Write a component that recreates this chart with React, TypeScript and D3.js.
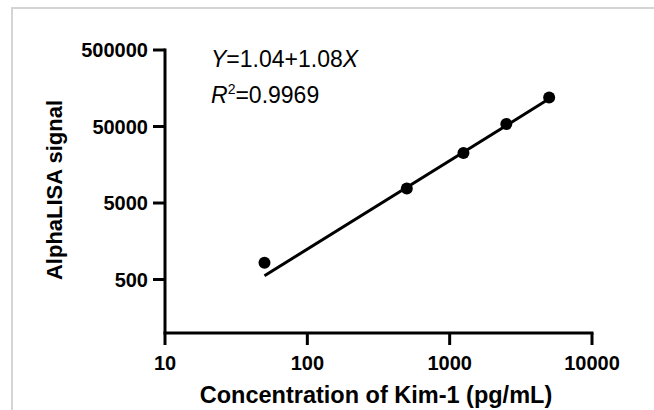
import * as d3 from 'd3';

// Kim-1 standard curve (pg/mL vs AlphaLISA counts)
const concentration = [50, 500, 1250, 2500, 5000];
const signal = [830, 7750, 22600, 54000, 120000];

// regression line ends as drawn
const fitX = [50, 5000];
const fitY = [560, 115000];

const xTicks = [10, 100, 1000, 10000];
const yTicks = [500, 5000, 50000, 500000];

const xTitle = 'Concentration of Kim-1 (pg/mL)';
const yTitle = 'AlphaLISA signal';

const W = 654;
const H = 410;
const font = 'Arial, "Liberation Sans", Helvetica, sans-serif';

export default function App() {
  const x = d3.scaleLog().domain([10, 10000]).range([165, 592]);
  const y = d3.scaleLog().domain([100, 500000]).range([333, 50]);
  const fmt = d3.format('d');

  const line = d3
    .line<number>()
    .x((_, i) => x(fitX[i]))
    .y(d => y(d));

  const y0 = y.range()[0];
  const x0 = x.range()[0];

  return (
    <svg
      width={W}
      height={H}
      style={{ position: 'absolute', left: 0, top: 0, background: '#fff' }}
      fontFamily={font}
    >
      {/* outer frame */}
      <path d={`M12,${H + 5}V8H${W + 5}`} fill="none" stroke="#d4d4d4" strokeWidth={2} />

      {/* y axis */}
      <line x1={x0} x2={x0} y1={y.range()[1] - 1.5} y2={y0} stroke="#000" strokeWidth={3} />
      {yTicks.map(t => (
        <g key={t}>
          <line x1={x0 - 12} x2={x0} y1={y(t)} y2={y(t)} stroke="#000" strokeWidth={3} />
          <text
            x={x0 - 17}
            y={y(t)}
            dy="0.36em"
            textAnchor="end"
            fontSize={20}
            fontWeight="bold"
          >
            {fmt(t)}
          </text>
        </g>
      ))}

      {/* x axis */}
      <line x1={x0 - 1.5} x2={x.range()[1] + 1.5} y1={y0} y2={y0} stroke="#000" strokeWidth={3} />
      {xTicks.map(t => (
        <g key={t}>
          <line x1={x(t)} x2={x(t)} y1={y0} y2={y0 + 12} stroke="#000" strokeWidth={3} />
          <text x={x(t)} y={370} textAnchor="middle" fontSize={20} fontWeight="bold">
            {fmt(t)}
          </text>
        </g>
      ))}

      {/* titles */}
      <text x={376} y={403} textAnchor="middle" fontSize={23.5} fontWeight="bold">
        {xTitle}
      </text>
      <text
        transform={`translate(62,190) rotate(-90)`}
        textAnchor="middle"
        fontSize={22}
        fontWeight="bold"
      >
        {yTitle}
      </text>

      {/* fit line */}
      <path d={line(fitY) ?? ''} fill="none" stroke="#000" strokeWidth={3} />

      {/* points */}
      {concentration.map((c, i) => (
        <circle key={c} cx={x(c)} cy={y(signal[i])} r={6} fill="#000" />
      ))}

      {/* equation */}
      <text x={211} y={67} fontSize={23}>
        <tspan fontStyle="italic">Y</tspan>
        <tspan>=1.04+1.08</tspan>
        <tspan fontStyle="italic">X</tspan>
      </text>
      <text x={211} y={103} fontSize={23}>
        <tspan fontStyle="italic">R</tspan>
        <tspan fontSize={14} dy={-9}>2</tspan>
        <tspan dy={9}>=0.9969</tspan>
      </text>
    </svg>
  );
}
